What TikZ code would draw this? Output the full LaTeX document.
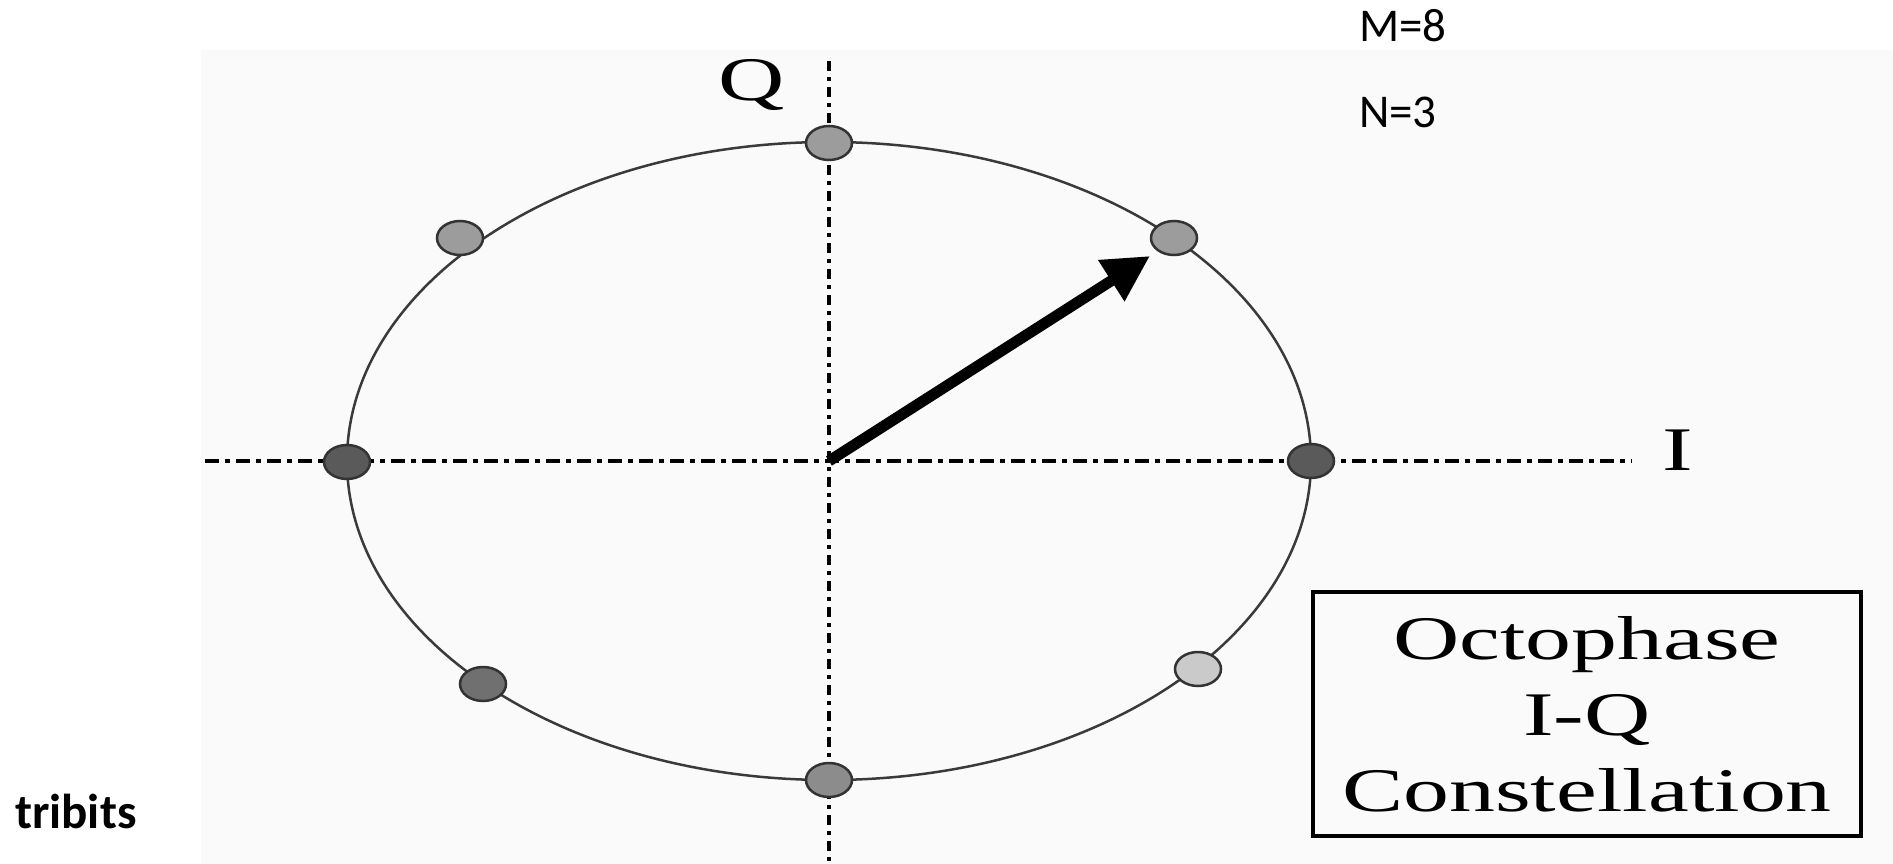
\documentclass[tikz,border=0pt]{standalone}
\usepackage{fontspec}
\setmainfont{Liberation Serif}
\newfontfamily\carlito{Carlito}
\usetikzlibrary{shapes.geometric,arrows.meta}
\definecolor{panel}{HTML}{FAFAFA}
\definecolor{dotA}{HTML}{9C9C9C}
\definecolor{dotB}{HTML}{5A5A5A}
\definecolor{dotC}{HTML}{707070}
\definecolor{dotD}{HTML}{8C8C8C}
\definecolor{dotE}{HTML}{CACACA}
\definecolor{ring}{HTML}{3A3A3A}
\tikzset{
  cdot/.style={ellipse, draw=black!80, line width=2.5pt, minimum width=46pt, minimum height=34pt, inner sep=0pt},
  axisline/.style={line width=3.5pt, dash pattern=on 14pt off 6pt on 5pt off 6pt},
  vaxisline/.style={line width=4pt, dash pattern=on 10pt off 6pt on 4pt off 6pt},
  serifl/.style={inner sep=0pt, anchor=base, font=\fontsize{62}{76}\selectfont},
  sansl/.style={inner sep=0pt, anchor=base west, font=\carlito\fontsize{47}{56}\selectfont},
}
\begin{document}
\begin{tikzpicture}[x=1pt,y=-1pt]
\useasboundingbox (0,0) rectangle (1893,864);
\fill[white] (0,0) rectangle (1893,864);
\fill[panel] (201,50) rectangle (1893,864);
% axes
\coordinate (o) at (829,461);
\coordinate (hl) at (205,461);
\coordinate (hr) at (1632,461);
\coordinate (vt) at (829,61);
\coordinate (vb) at (829,864);
\draw[axisline] (hl) -- (hr);
\draw[vaxisline] (vt) -- (vb);
% ring
\draw[ring, line width=2.5pt] (o) ellipse [x radius=482, y radius=319];
% arrow
\coordinate (tip) at (1150,256);
\draw[line width=11pt, -{Triangle[length=46pt,width=46pt]}] (o) -- (tip);
% points
\node[cdot, fill=dotA] (p90) at (829,143) {};
\node[cdot, fill=dotA] (p135) at (460,238) {};
\node[cdot, fill=dotA] (p45) at (1174,238) {};
\node[cdot, fill=dotB] (p180) at (347,462) {};
\node[cdot, fill=dotB] (p0) at (1311,461) {};
\node[cdot, fill=dotC] (p225) at (483,684) {};
\node[cdot, fill=dotD] (p270) at (829,780) {};
\node[cdot, fill=dotE] (p315) at (1198,669) {};
% labels
\node[serifl] (q) at (752,101) {\scalebox{1.48}[1]{Q}};
\node[serifl] (i) at (1678,470) {\scalebox{1.48}[1]{I}};
\node[draw, line width=4pt, minimum width=548pt, minimum height=244pt, inner sep=0pt,
      align=center, font=\fontsize{62}{76}\selectfont] (box) at (1587,714)
  {\scalebox{1.48}[1]{Octophase}\\\scalebox{1.48}[1]{I-Q}\\\scalebox{1.48}[1]{Constellation}};
\node[sansl] (m) at (1359,42) {M=8};
\node[sansl] (n) at (1359,128) {N=3};
\node[sansl, font=\carlito\bfseries\fontsize{49}{58}\selectfont] (t) at (15,828) {tribits};
\end{tikzpicture}
\end{document}
